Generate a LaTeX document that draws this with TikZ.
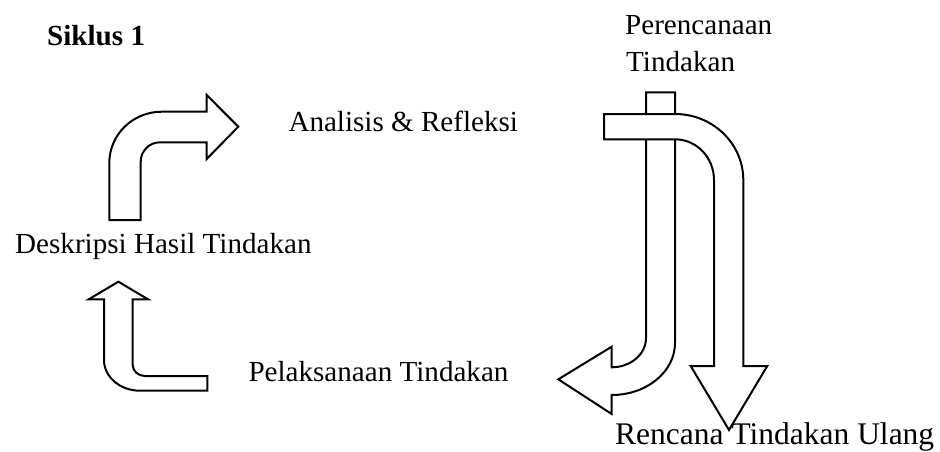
\documentclass[tikz,border=0pt]{standalone}
\usepackage{fontspec}
\setmainfont{Liberation Serif}
\usetikzlibrary{calc}
\tikzset{
  bigarrow/.style={draw=black, fill=white, line width=2pt, line join=miter},
  lbl/.style={anchor=base west, inner sep=0pt, font=\fontsize{29.1}{35}\selectfont},
}
\newcommand{\qcurve}[3]{.. controls ($(#1)!0.5523!(#2)$) and ($(#3)!0.5523!(#2)$) .. (#3)}
\begin{document}
\begin{tikzpicture}[x=1pt,y=-1pt]
\useasboundingbox (0,0) rectangle (940,451);
% upper-left bent arrow
\draw[bigarrow] (109.3,220) -- (109.3,163) \qcurve{109.3,163}{109.3,111.7}{161.7,111.7}
  -- (206.7,111.7) -- (206.7,95) -- (238.3,126.7) -- (206.7,159) -- (206.7,142.3)
  -- (160,142.3) \qcurve{160,142.3}{140.7,142.3}{140.7,161.7} -- (140.7,220) -- cycle;
% lower-left L arrow
\draw[bigarrow] (118.4,281.7) -- (148,299.3) -- (132.7,299.3) -- (132.7,365)
  \qcurve{132.7,365}{132.7,376}{145,376} -- (207.3,376) -- (207.3,390.7) -- (140,390.7)
  \qcurve{140,390.7}{104,390.7}{104,360} -- (104,299.3) -- (88.8,299.3) -- cycle;
% J arrow (right, going down then left)
\draw[bigarrow] (646,92.3) -- (675,92.3) -- (675,343) \qcurve{675,343}{675,395}{611.7,395}
  -- (611.7,414) -- (558.3,379.3) -- (611.7,346.7) -- (611.7,367.3)
  \qcurve{611.7,367.3}{646,367.3}{646,338} -- cycle;
% n arrow (right, going right then down)
\draw[bigarrow] (604,114) -- (675,114) \qcurve{675,114}{743.3,114}{743.3,180}
  -- (743.3,366) -- (767.3,366) -- (729,430) -- (690.7,366) -- (714,366) -- (714,180)
  \qcurve{714,180}{714,139.3}{675,139.3} -- (604,139.3) -- cycle;
% labels
\node[lbl, font=\fontsize{29.1}{35}\selectfont\bfseries] (siklus) at (47,45) {Siklus 1};
\node[lbl] (plan1) at (625,34.3) {Perencanaan};
\node[lbl] (plan2) at (626,71.7) {Tindakan};
\node[lbl] (analisis) at (288.3,131.7) {Analisis \& Refleksi};
\node[lbl] (deskripsi) at (15,253.3) {Deskripsi Hasil Tindakan};
\node[lbl] (pelaksanaan) at (248.3,381.7) {Pelaksanaan Tindakan};
\node[lbl, font=\fontsize{31.5}{37}\selectfont] (rencana) at (615,444.5) {Rencana Tindakan Ulang};
\end{tikzpicture}
\end{document}
